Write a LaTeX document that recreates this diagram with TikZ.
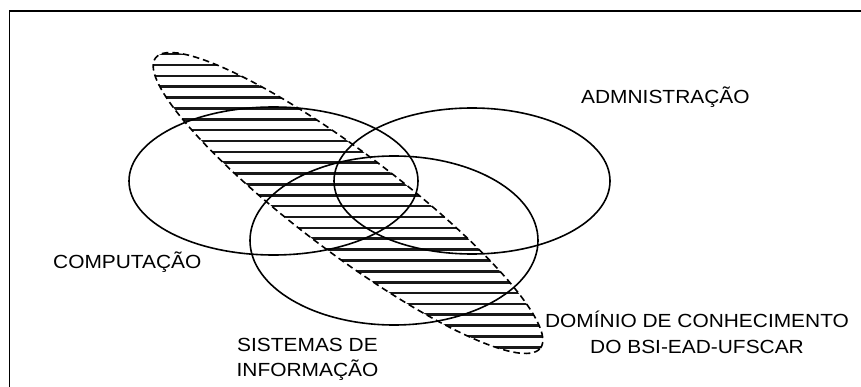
\documentclass[tikz,border=0pt]{standalone}
\usepackage{fontspec}
\setmainfont{Liberation Sans}[FakeStretch=1.1]
\usetikzlibrary{shapes.geometric}
\begin{document}
\begin{tikzpicture}[x=1pt,y=-1pt,
  ell/.style={draw, ellipse, inner sep=0pt, line width=1.6pt},
  lab/.style={inner sep=0pt, font=\fontsize{19}{25.5}\selectfont},
  hatch/.style={line width=2.6pt, black!90}]
\useasboundingbox (0,0) rectangle (861,387);
% frame
\draw[line width=1.8pt] (9.5,387) -- (9.5,10.7) -- (861,10.7);
% hatching of the knowledge domain
\begin{scope}
  \clip[shift={(348,203)}, rotate=-37] (0,0) ellipse [x radius=241pt, y radius=50pt];
  \foreach \k in {-2,...,28}
    \draw[hatch] (100,{65+10.86*\k}) -- (620,{65+10.86*\k});
\end{scope}
\node[draw, ellipse, inner sep=0pt, line width=1.6pt, dash pattern=on 6.5pt off 4pt,
      rotate=-37, minimum width=482pt, minimum height=100pt] (dom) at (348,203) {};
% sets
\node[ell, minimum width=289pt, minimum height=148pt] (comp) at (273.5,181) {};
\node[ell, minimum width=276pt, minimum height=146pt] (adm) at (472,181) {};
\node[ell, minimum width=288pt, minimum height=169pt] (si) at (394,240.5) {};
% labels
\node[lab, anchor=base west] (admlab) at (581,104) {ADMNISTRAÇÃO};
\node[lab, anchor=base west] (complab) at (53,268) {COMPUTAÇÃO};
\node[lab, anchor=base] (silab1) at (307.5,351) {SISTEMAS DE};
\node[lab, anchor=base] (silab2) at (307.5,376) {INFORMAÇÃO};
\node[lab, anchor=base] (domlab1) at (697,327) {DOMÍNIO DE CONHECIMENTO};
\node[lab, anchor=base] (domlab2) at (697,353) {DO BSI-EAD-UFSCAR};
\end{tikzpicture}
\end{document}
